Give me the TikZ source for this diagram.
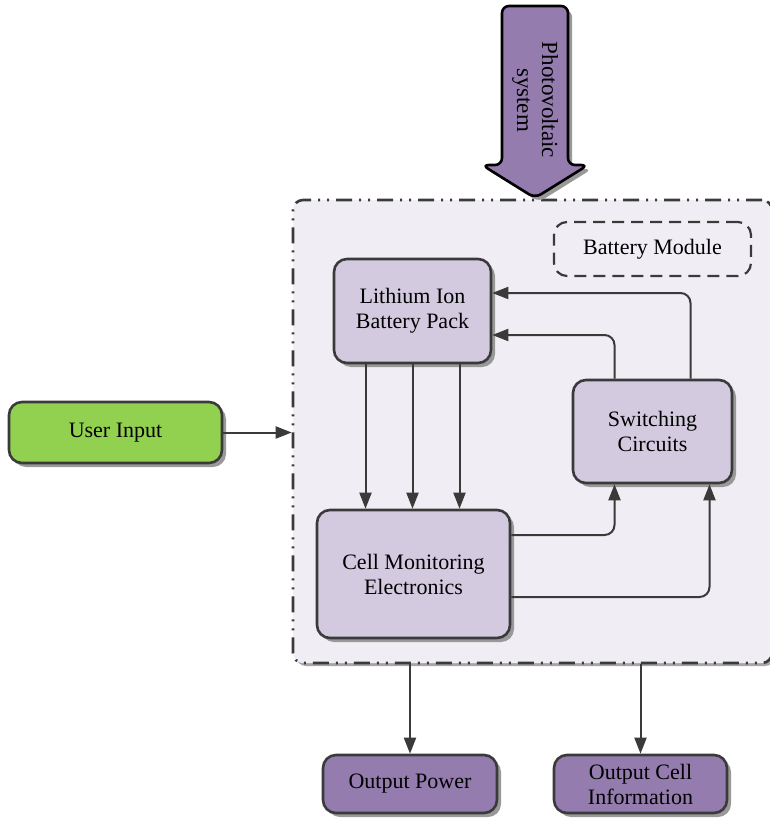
\documentclass[tikz,border=0pt]{standalone}
\usepackage{fontspec}
\setmainfont{Liberation Serif}
\usetikzlibrary{arrows.meta,shadows,positioning}

\definecolor{linegray}{HTML}{3A3A3A}
\definecolor{boxfill}{HTML}{D3CAE0}
\definecolor{outfill}{HTML}{947CAE}
\definecolor{modfill}{HTML}{F0EEF4}
\definecolor{userfill}{HTML}{92D050}

\tikzset{
  blk/.style={draw=linegray, line width=2.6pt, rounded corners=13pt, fill=boxfill,
    align=center, font=\fontsize{22}{25}\selectfont,
    drop shadow={shadow xshift=4pt, shadow yshift=-4pt, fill=black!40, opacity=1}},
  outblk/.style={blk, fill=outfill},
  userblk/.style={blk, fill=userfill},
  modbox/.style={draw=linegray, line width=2.6pt, rounded corners=10pt, fill=modfill,
    dash pattern=on 16pt off 7pt on 2pt off 7pt on 2pt off 7pt,
    drop shadow={shadow xshift=3pt, shadow yshift=-3pt, fill=black!35, opacity=1}},
  tagbox/.style={draw=linegray, line width=2.2pt, rounded corners=13pt, dash pattern=on 12pt off 7pt,
    align=center, font=\fontsize{22}{25}\selectfont},
  arr/.style={draw=linegray, line width=2pt, rounded corners=10pt, -{Triangle[length=16pt,width=12pt]}}
}

\begin{document}
\begin{tikzpicture}[x=1pt, y=-1pt]
  \useasboundingbox (0,0) rectangle (769,819);

  % module frame
  \node[modbox, minimum width=479pt, minimum height=463pt] (mod) at (532.5,431.5) {};
  \node[tagbox, minimum width=197pt, minimum height=54pt] (tag) at (652.5,249) {Battery Module};

  % photovoltaic input
  \draw[draw=black, line width=2.6pt, fill=outfill, rounded corners=7pt,
        drop shadow={shadow xshift=4pt, shadow yshift=-4pt, fill=black!40, opacity=1}]
    (502,6) -- (502,165) -- (482,165) -- (535,198) -- (588,165) -- (568,165) -- (568,6) -- cycle;
  \node[rotate=-90, align=center, font=\fontsize{23}{25}\selectfont] (pv) at (535,100) {Photovoltaic\\system};

  % blocks
  \node[blk, minimum width=157pt, minimum height=104pt] (li) at (412.5,311) {Lithium Ion\\Battery Pack};
  \node[blk, minimum width=159pt, minimum height=103pt] (sc) at (652.5,431.5) {Switching\\Circuits};
  \node[blk, minimum width=193pt, minimum height=128pt] (cme) at (413.5,574) {Cell Monitoring\\Electronics};
  \node[userblk, minimum width=213pt, minimum height=61pt] (ui) at (115.5,432.5) {User Input};
  \node[outblk, minimum width=174pt, minimum height=58pt] (op) at (410,784) {Output Power};
  \node[outblk, minimum width=173pt, minimum height=58pt] (oci) at (640.5,784) {Output Cell\\Information};

  % connectors
  \draw[arr] ([xshift=-47pt]li.south) -- ([xshift=-47pt]li.south |- cme.north);
  \draw[arr] (li.south) -- (li.south |- cme.north);
  \draw[arr] ([xshift=47pt]li.south) -- ([xshift=47pt]li.south |- cme.north);
  \draw[arr] ([xshift=38pt]sc.north) |- ([yshift=18pt]li.east);
  \draw[arr] ([xshift=-38pt]sc.north) |- ([yshift=-24pt]li.east);
  \draw[arr] ([yshift=39pt]cme.east) -| ([xshift=-38pt]sc.south);
  \draw[arr] ([yshift=-23pt]cme.east) -| ([xshift=57pt]sc.south);
  \draw[arr] (ui.east) -- (ui.east -| mod.west);
  \draw[arr] (op.north |- mod.south) -- (op.north);
  \draw[arr] (oci.north |- mod.south) -- (oci.north);
\end{tikzpicture}
\end{document}
